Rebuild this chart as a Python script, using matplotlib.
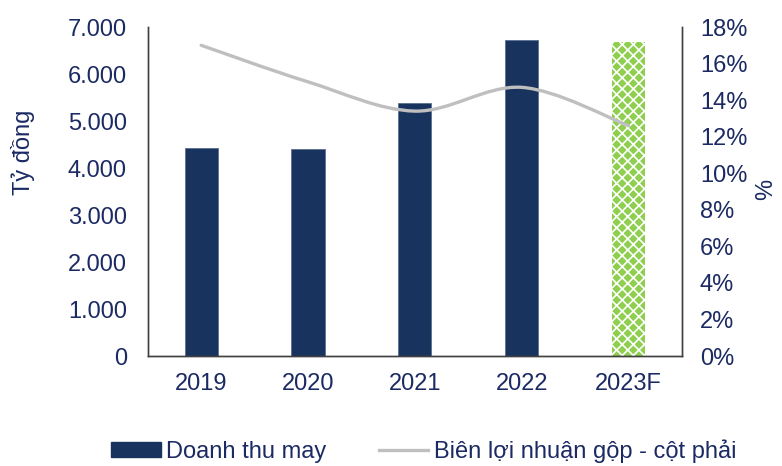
import numpy as np
import matplotlib.pyplot as plt
from matplotlib.path import Path
from matplotlib.patches import PathPatch, Patch
from matplotlib.lines import Line2D
from matplotlib.ticker import FuncFormatter

years = ['2019', '2020', '2021', '2022', '2023F']
revenue = [4430, 4410, 5380, 6720, 6680]          # Tỷ đồng
gross_margin = [17.0, 15.0, 13.4, 14.7, 12.6]     # %

navy = '#17335E'
green = '#8FCF4F'
grey = '#BFBFBF'
text_col = '#1B2A63'
fs = 17

plt.rcParams['font.family'] = ['Liberation Sans', 'DejaVu Sans']
plt.rcParams['hatch.linewidth'] = 1.2

fig = plt.figure(figsize=(7.82, 4.66), dpi=100)
ax = fig.add_axes([0.189, 0.236, 0.683, 0.706])
ax2 = ax.twinx()

x = np.arange(len(years))
bars = ax.bar(x, revenue, width=0.31, color=navy, edgecolor='#5a7090', linewidth=0.6, zorder=2)
# forecast bar: green patterned
bars[-1].set_facecolor(green)
bars[-1].set_edgecolor('white')
bars[-1].set_linewidth(0)
bars[-1].set_hatch('xxx')

ax.set_xlim(-0.5, 4.5)
ax.set_ylim(0, 7000)
ax.set_yticks(range(0, 7001, 1000))
ax.yaxis.set_major_formatter(FuncFormatter(lambda v, p: f'{int(v):,}'.replace(',', '.')))
ax.set_xticks(x)
ax.set_xticklabels(years)
ax.set_ylabel('Tỷ đồng', color=text_col, fontsize=fs)
ax.yaxis.set_label_coords(-0.212, 0.62)

ax2.set_ylim(0, 18)
ax2.set_yticks(range(0, 19, 2))
ax2.yaxis.set_major_formatter(FuncFormatter(lambda v, p: f'{int(v)}%'))
ax2.set_ylabel('%', color=text_col, fontsize=fs)
ax2.yaxis.set_label_coords(1.138, 0.505)

# smooth line (Catmull-Rom style bezier through the points)
pts = np.column_stack([x, gross_margin]).astype(float)
ext = np.vstack([pts[0], pts, pts[-1]])
verts = [tuple(pts[0])]
codes = [Path.MOVETO]
for i in range(1, len(ext) - 2):
    p0, p1, p2, p3 = ext[i - 1], ext[i], ext[i + 1], ext[i + 2]
    c1 = p1 + (p2 - p0) / 6
    c2 = p2 - (p3 - p1) / 6
    verts += [tuple(c1), tuple(c2), tuple(p2)]
    codes += [Path.CURVE4] * 3
ax2.add_patch(PathPatch(Path(verts, codes), facecolor='none', edgecolor=grey,
                        linewidth=2.4, capstyle='round', zorder=3))

for a in (ax, ax2):
    a.spines['top'].set_visible(False)
    for s in ('left', 'right', 'bottom'):
        a.spines[s].set_color('#404040')
        a.spines[s].set_linewidth(1.0)
    a.tick_params(length=0, labelsize=fs, labelcolor=text_col)
ax.tick_params(axis='x', pad=12)
ax.tick_params(axis='y', pad=15)
ax2.tick_params(axis='y', pad=13)

handles = [Patch(facecolor=navy, edgecolor=navy),
           Line2D([0], [0], color=grey, linewidth=2.4)]
fig.legend(handles, ['Doanh thu may', 'Biên lợi nhuận gộp - cột phải'],
           loc='center', bbox_to_anchor=(0.542, 0.032), ncol=2, frameon=False,
           fontsize=fs, labelcolor=text_col, handlelength=2.1, handleheight=0.65,
           handletextpad=0.25, columnspacing=2.2, borderpad=0)

fig.savefig('out.png', dpi=100)
